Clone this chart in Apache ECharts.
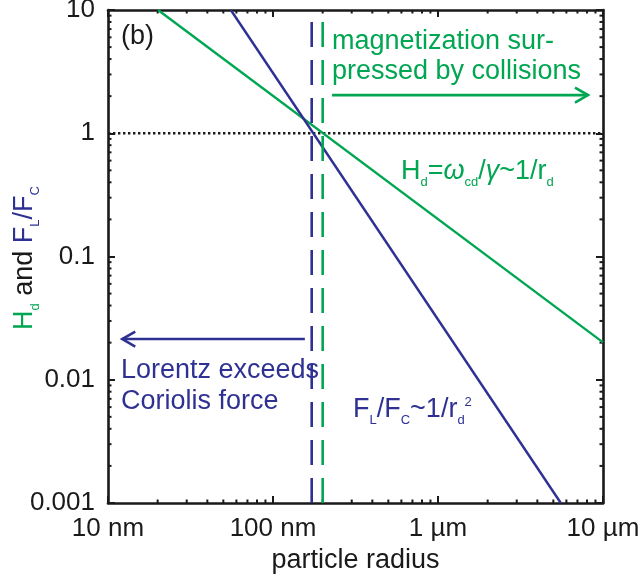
<!DOCTYPE html>
<html><head><meta charset="utf-8">
<script src="https://cdn.jsdelivr.net/npm/echarts@6/dist/echarts.min.js"></script>
<style>html,body{margin:0;padding:0;background:#fff}#c{width:642px;height:579px}</style>
</head><body><div id="c"></div>
<script>
// ---- data ----
const xTicks = [10, 100, 1000, 10000];              // particle radius, nm
const xTickLabels = ['10 nm', '100 nm', '1 µm', '10 µm'];
const yTicks = [0.001, 0.01, 0.1, 1, 10];
const yTickLabels = ['0.001', '0.01', '0.1', '1', '10'];
const xMinor = [20,30,40,50,60,70,80,90,200,300,400,500,600,700,800,900,2000,3000,4000,5000,6000,7000,8000,9000];
const yMinor = [0.002,0.003,0.004,0.005,0.006,0.007,0.008,0.009,0.02,0.03,0.04,0.05,0.06,0.07,0.08,0.09,0.2,0.3,0.4,0.5,0.6,0.7,0.8,0.9,2,3,4,5,6,7,8,9];
const hallLine = [[20.1, 10], [10000, 0.0201]];        // H_d ~ 1/r_d
const lorentzLine = [[55.5, 10], [5550, 0.001]];       // F_L/F_C ~ 1/r_d^2
const unityLine = [[10, 1], [10000, 1]];
const blueThreshold = [[171.6, 0.001], [171.6, 10]];
const greenThreshold = [[200, 0.001], [200, 10]];
const greenArrow = [[228, 8110, 2.04]];   // from x, to x, y
const blueArrow = [[156, 12.2, 0.0214]];

const X_MIN = 10, X_MAX = 10000, Y_MIN = 0.001, Y_MAX = 10;
const GREEN = '#00a651', BLUE = '#2e3192', BLACK = '#1a1a1a';
const FONT = '"Liberation Sans", Arial, Helvetica, sans-serif';

function pick(ticks, labels, v) {
  const i = ticks.findIndex(t => Math.abs(Math.log10(t) - Math.log10(v)) < 1e-6);
  return i >= 0 ? labels[i] : '';
}

const chart = echarts.init(document.getElementById('c'), null, {renderer: 'canvas'});

const axisLine = {show: true, lineStyle: {color: BLACK, width: 2.6}};
const tick = {show: true, inside: true, length: 7, lineStyle: {color: BLACK, width: 2}};

function minorX(params, api) {
  const v = api.value(0);
  const b = api.coord([v, Y_MIN]);
  const t = api.coord([v, Y_MAX]);
  const st = {stroke: BLACK, lineWidth: 2};
  return {type: 'group', children: [
    {type: 'line', shape: {x1: b[0], y1: b[1], x2: b[0], y2: b[1] - 3.5}, style: st},
    {type: 'line', shape: {x1: t[0], y1: t[1], x2: t[0], y2: t[1] + 3.5}, style: st}
  ]};
}
function minorY(params, api) {
  const v = api.value(1);
  const l = api.coord([X_MIN, v]);
  const r = api.coord([X_MAX, v]);
  const st = {stroke: BLACK, lineWidth: 2};
  return {type: 'group', children: [
    {type: 'line', shape: {x1: l[0], y1: l[1], x2: l[0] + 3.5, y2: l[1]}, style: st},
    {type: 'line', shape: {x1: r[0], y1: r[1], x2: r[0] - 3.5, y2: r[1]}, style: st}
  ]};
}
function arrow(color) {
  return function (params, api) {
    const p0 = api.coord([api.value(0), api.value(2)]);
    const p1 = api.coord([api.value(1), api.value(2)]);
    const d = p1[0] > p0[0] ? 1 : -1;
    const st = {stroke: color, lineWidth: 2.6, fill: null};
    return {type: 'group', children: [
      {type: 'line', shape: {x1: p0[0], y1: p0[1], x2: p1[0], y2: p1[1]}, style: st},
      {type: 'polyline', shape: {points: [[p1[0] - d * 13, p1[1] - 7.5], [p1[0], p1[1]], [p1[0] - d * 13, p1[1] + 7.5]]}, style: st}
    ]};
  };
}

const main = {fontFamily: FONT, fontSize: 27, lineHeight: 30};
const sub = {fontFamily: FONT, fontSize: 13, lineHeight: 13, padding: [21, 0, 0, 0]};
const sup = {fontFamily: FONT, fontSize: 13, lineHeight: 13, padding: [0, 0, 15, 0]};

const option = {
  animation: false,
  backgroundColor: '#fff',
  grid: {left: 108, right: 39, top: 10, bottom: 76, containLabel: false, outerBoundsMode: 'none'},
  xAxis: [
    {type: 'log', logBase: 10, min: X_MIN, max: X_MAX, position: 'bottom',
     axisLine, axisTick: tick, splitLine: {show: false}, minorTick: {show: false},
     axisLabel: {margin: 13, color: BLACK, fontSize: 26, fontFamily: FONT,
                 formatter: v => pick(xTicks, xTickLabels, v)},
     name: 'particle radius', nameLocation: 'middle', nameGap: 41,
     nameTextStyle: {color: BLACK, fontSize: 27, fontFamily: FONT}},
    {type: 'log', logBase: 10, min: X_MIN, max: X_MAX, position: 'top',
     axisLine, axisTick: tick, splitLine: {show: false}, axisLabel: {show: false}}
  ],
  yAxis: [
    {type: 'log', logBase: 10, min: Y_MIN, max: Y_MAX, position: 'left',
     axisLine, axisTick: tick, splitLine: {show: false}, minorTick: {show: false},
     axisLabel: {margin: 13, color: BLACK, fontSize: 26, fontFamily: FONT,
                 formatter: v => pick(yTicks, yTickLabels, v)}},
    {type: 'log', logBase: 10, min: Y_MIN, max: Y_MAX, position: 'right',
     axisLine, axisTick: tick, splitLine: {show: false}, axisLabel: {show: false}}
  ],
  series: [
    {type: 'line', data: unityLine, showSymbol: false, silent: true,
     lineStyle: {color: BLACK, width: 2.4, type: [2.4, 2.6]}},
    {type: 'line', data: hallLine, showSymbol: false, silent: true,
     lineStyle: {color: GREEN, width: 2.4}},
    {type: 'line', data: lorentzLine, showSymbol: false, silent: true,
     lineStyle: {color: BLUE, width: 2.4}},
    {type: 'line', data: blueThreshold, showSymbol: false, silent: true,
     lineStyle: {color: BLUE, width: 2.6, type: [25, 13]}},
    {type: 'line', data: greenThreshold, showSymbol: false, silent: true,
     lineStyle: {color: GREEN, width: 2.6, type: [25, 13]}},
    {type: 'custom', silent: true, clip: false, data: xMinor.map(v => [v, 1]), renderItem: minorX},
    {type: 'custom', silent: true, clip: false, data: yMinor.map(v => [100, v]), renderItem: minorY},
    {type: 'custom', silent: true, clip: false, data: greenArrow, encode: {x: [0, 1], y: 2}, renderItem: arrow(GREEN)},
    {type: 'custom', silent: true, clip: false, data: blueArrow, encode: {x: [0, 1], y: 2}, renderItem: arrow(BLUE)}
  ],
  graphic: [
    {type: 'text', x: 121, y: 36.6, silent: true,
     style: {text: '(b)', fill: BLACK, font: '27px ' + FONT, align: 'left', verticalAlign: 'middle'}},
    {type: 'text', x: 332, y: 41.6, silent: true,
     style: {text: 'magnetization sur-', fill: GREEN, font: '27px ' + FONT, align: 'left', verticalAlign: 'middle'}},
    {type: 'text', x: 332, y: 71.6, silent: true,
     style: {text: 'pressed by collisions', fill: GREEN, font: '27px ' + FONT, align: 'left', verticalAlign: 'middle'}},
    {type: 'text', x: 121, y: 370.6, silent: true,
     style: {text: 'Lorentz exceeds', fill: BLUE, font: '27px ' + FONT, align: 'left', verticalAlign: 'middle'}},
    {type: 'text', x: 121, y: 401.6, silent: true,
     style: {text: 'Coriolis force', fill: BLUE, font: '27px ' + FONT, align: 'left', verticalAlign: 'middle'}},
    {type: 'text', x: 401, y: 171.6, silent: true,
     style: {text: '{m|H}{s|d}{m|=}{i|ω}{s|cd}{m|/}{i|γ}{m|~1/r}{s|d}', fill: GREEN, align: 'left', verticalAlign: 'middle',
       rich: {m: Object.assign({fill: GREEN}, main), i: Object.assign({fill: GREEN, fontStyle: 'italic'}, main), s: Object.assign({fill: GREEN}, sub)}}},
    {type: 'text', x: 353, y: 409.6, silent: true,
     style: {text: '{m|F}{s|L}{m|/F}{s|C}{m|~1/r}{s|d}{p|2}', fill: BLUE, align: 'left', verticalAlign: 'middle',
       rich: {m: Object.assign({fill: BLUE}, main), s: Object.assign({fill: BLUE}, sub), p: Object.assign({fill: BLUE}, sup)}}},
    {type: 'text', x: 25, y: 258, rotation: Math.PI / 2, silent: true,
     style: {text: '{g|H}{gs|d}{k| and }{b|F}{bs|L}{b|/F}{bs|C}', align: 'center', verticalAlign: 'middle',
       rich: {g: Object.assign({fill: GREEN}, main), gs: Object.assign({fill: GREEN}, sub),
              k: Object.assign({fill: BLACK}, main),
              b: Object.assign({fill: BLUE}, main), bs: Object.assign({fill: BLUE}, sub)}}}
  ]
};
chart.setOption(option);
</script>
</body></html>
